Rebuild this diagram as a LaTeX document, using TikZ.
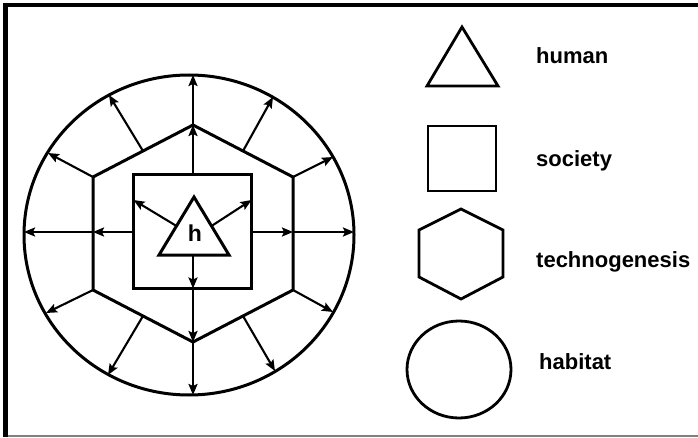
\documentclass[tikz,border=0pt]{standalone}
\usepackage{fontspec}
\setmainfont{Liberation Sans}
\usetikzlibrary{arrows.meta}
\begin{document}
\begin{tikzpicture}[x=1pt,y=-1pt,
  shapeline/.style={line width=3pt,line join=miter},
  legline/.style={line width=2.8pt,line join=miter},
  arr/.style={line width=2.1pt,-{Stealth[length=11pt,width=9pt,inset=2pt]}},
  legtext/.style={anchor=base west,inner sep=0pt,font=\fontsize{22}{26}\selectfont\bfseries}]
\useasboundingbox (0,0) rectangle (698,438);
\fill[white] (0,0) rectangle (698,438);
% frame
\fill[black] (3,3) rectangle (698,7.5);
\fill[black] (3,3) rectangle (8,437);
\draw[gray,line width=1.2pt] (8,436) -- (698,436);

% ---- main diagram coordinates
\coordinate (hT) at (193,125);
\coordinate (hUR) at (293,177);
\coordinate (hLR) at (293,290);
\coordinate (hB) at (193,342);
\coordinate (hLL) at (93,290);
\coordinate (hUL) at (93,177);
\coordinate (hL) at (93,232);
\coordinate (hR) at (293,232);
\coordinate (mUL) at (143,151);
\coordinate (mUR) at (243,151);
\coordinate (mLL) at (143,316);
\coordinate (mLR) at (243,316);

\coordinate (sqT) at (193,174.5);
\coordinate (sqB) at (193,288.5);
\coordinate (sqL) at (133.5,232);
\coordinate (sqR) at (251.5,232);
\coordinate (sqLa) at (133.5,200);
\coordinate (sqRa) at (251.5,200);

\coordinate (trA) at (194,197);
\coordinate (trL) at (159,255);
\coordinate (trR) at (229,255);
\coordinate (trB) at (193,255);
\coordinate (trML) at (176.5,226);
\coordinate (trMR) at (211.5,226);

\coordinate (cT) at (193,75);
\coordinate (cB) at (193,395);
\coordinate (cL) at (24,232);
\coordinate (cR) at (354,232);
\coordinate (cUL) at (48,153);
\coordinate (cUR) at (333,157);
\coordinate (cLL) at (46,313);
\coordinate (cLR) at (333,312);
\coordinate (cmUL) at (109,95);
\coordinate (cmUR) at (273,97);
\coordinate (cmLL) at (108,375);
\coordinate (cmLR) at (275,371);

% habitat circle
\draw[shapeline] (189,235) ellipse [x radius=165,y radius=160];
% hexagon
\draw[shapeline] (hT) -- (hUR) -- (hLR) -- (hB) -- (hLL) -- (hUL) -- cycle;
% square
\draw[shapeline] (133.5,174.5) rectangle (251.5,288.5);
% triangle
\draw[shapeline] (trA) -- (trR) -- (trL) -- cycle;
\node[inner sep=0pt,anchor=base,font=\fontsize{23}{26}\selectfont\bfseries] (h) at (195,242) {h};

% arrows
\draw[arr] (sqT) -- (hT);
\draw[arr] (hT) -- (cT);
\draw[arr] (trB) -- (sqB);
\draw[arr] (sqB) -- (hB);
\draw[arr] (hB) -- (cB);
\draw[arr] (sqL) -- (hL);
\draw[arr] (hL) -- (cL);
\draw[arr] (sqR) -- (hR);
\draw[arr] (hR) -- (cR);
\draw[arr] (trML) -- (sqLa);
\draw[arr] (trMR) -- (sqRa);
\draw[arr] (hUL) -- (cUL);
\draw[arr] (hUR) -- (cUR);
\draw[arr] (hLL) -- (cLL);
\draw[arr] (hLR) -- (cLR);
\draw[arr] (mUL) -- (cmUL);
\draw[arr] (mUR) -- (cmUR);
\draw[arr] (mLL) -- (cmLL);
\draw[arr] (mLR) -- (cmLR);

% ---- legend
\draw[legline] (462,27) -- (498,86) -- (427,86) -- cycle;
\draw[legline] (428,126) rectangle (496,191);
\draw[legline] (461,209) -- (503,230) -- (503,277) -- (461,299) -- (419,277) -- (419,230) -- cycle;
\draw[legline] (459,369.5) ellipse [x radius=52,y radius=48.5];

\node[legtext] (lhuman) at (536,64) {human};
\node[legtext] (lsociety) at (536,167) {society};
\node[legtext] (ltech) at (536,267) {technogenesis};
\node[legtext] (lhab) at (539,369) {habitat};
\end{tikzpicture}
\end{document}
